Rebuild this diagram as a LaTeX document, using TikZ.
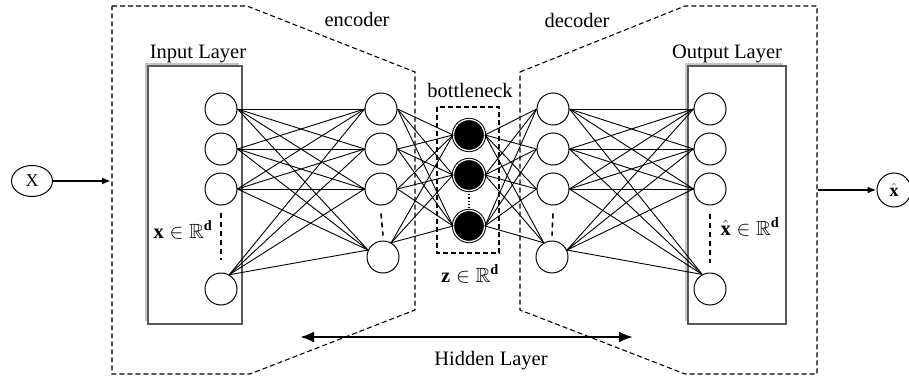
\documentclass[tikz,border=0pt]{standalone}
\usepackage{amssymb}
\usepackage{fontspec}
\setmainfont{Liberation Serif}
\usetikzlibrary{arrows.meta,shapes.geometric}

\begin{document}
\begin{tikzpicture}[x=1pt,y=-1pt,
  neuron/.style={circle,draw,fill=white,minimum size=32pt,inner sep=0pt,line width=1pt},
  coreunit/.style={circle,fill=black,draw=black,double=white,double distance=1.2pt,
                   line width=1pt,minimum size=31pt,inner sep=0pt},
  link/.style={line width=0.9pt},
  gap/.style={line width=1.6pt,dash pattern=on 5pt off 4pt},
  frame/.style={line width=1.1pt,dash pattern=on 5pt off 3pt},
  layerbox/.style={draw=gray!70!black,fill=white,line width=1.1pt},
  boxshade/.style={fill=gray!45},
  lbl/.style={font=\fontsize{20.5}{24}\selectfont,inner sep=0pt,anchor=base},
  flow/.style={line width=1.8pt,-{Latex[length=9pt,width=7pt]}},
]
\useasboundingbox (0,0) rectangle (909,377);

% encoder and decoder outlines
\draw[frame] (112,6) -- (247,6) -- (415,72) -- (415,310) -- (250,374) -- (112,374) -- cycle;
\draw[frame] (520,72) -- (685,6) -- (817,6) -- (817,374) -- (685,374) -- (520,310) -- cycle;

% input and output layer boxes with their shade
\fill[boxshade] (145,63) rectangle (239,321);
\draw[layerbox] (148,66) rectangle (242,324);
\fill[boxshade] (685,63) rectangle (783,321);
\draw[layerbox] (688,66) rectangle (786,324);

% bottleneck box
\draw[frame] (437,107) rectangle (499,253);

% neuron positions
\foreach \k/\y in {1/109,2/149,3/189,4/289} \coordinate (in\k) at (221,\y);
\foreach \k/\y in {1/109,2/149,3/189} \coordinate (en\k) at (381,\y);
\coordinate (en4) at (383,257);
\foreach \k/\y in {1/135,2/175,3/226} \coordinate (bn\k) at (469,\y);
\foreach \k/\y in {1/109,2/149,3/189} \coordinate (de\k) at (553,\y);
\coordinate (de4) at (552,257);
\foreach \k/\y in {1/109,2/149,3/189,4/289} \coordinate (out\k) at (710,\y);

% neurons
\foreach \k in {1,2,3,4} {
  \node[neuron] (in\k) at (in\k) {};
  \node[neuron] (en\k) at (en\k) {};
  \node[neuron] (de\k) at (de\k) {};
  \node[neuron] (out\k) at (out\k) {};
}
\foreach \k in {1,2,3} \node[coreunit] (bn\k) at (bn\k) {};

% fully connected links
\foreach \i/\a in {1/east,2/east,3/east,4/60}
  \foreach \j/\b in {1/west,2/west,3/west,4/155}
    \draw[link] (in\i.\a) -- (en\j.\b);
\foreach \i/\a in {1/east,2/east,3/east,4/60}
  \foreach \j in {1,2,3}
    \draw[link] (en\i.\a) -- (bn\j.west);
\foreach \i in {1,2,3}
  \foreach \j/\b in {1/west,2/west,3/west,4/120}
    \draw[link] (bn\i.east) -- (de\j.\b);
\foreach \i/\a in {1/east,2/east,3/east,4/25}
  \foreach \j/\b in {1/west,2/west,3/west,4/118}
    \draw[link] (de\i.\a) -- (out\j.\b);

% elided units
\draw[gap] ([yshift=-7pt]in3.south) -- ([yshift=13pt]in4.north);
\draw[gap] ([yshift=-8pt]en3.south) -- ([yshift=5pt]en4.north);
\draw[gap] ([yshift=-8pt]de3.south) -- ([yshift=5pt]de4.north);
\draw[gap] ([yshift=-8pt]out3.south) -- ([yshift=10pt]out4.north);
\draw[line width=1.2pt,dotted] (bn2.south) -- (bn3.north);

% labels
\node[lbl] (tenc) at (357,27) {encoder};
\node[lbl] (tdec) at (577,28) {decoder};
\node[lbl] (tin) at (198,59) {Input Layer};
\node[lbl] (tout) at (727,59) {Output Layer};
\node[lbl] (tbn) at (470,98) {bottleneck};
\node[lbl] (tz) at (470,282) {$\mathbf{z}\in\mathbb{R}^{\mathbf{d}}$};
\node[lbl] (tx) at (183,238) {$\mathbf{x}\in\mathbb{R}^{\mathbf{d}}$};
\node[lbl] (txh) at (750,235) {$\hat{\mathbf{x}}\in\mathbb{R}^{\mathbf{d}}$};
\node[lbl] (thid) at (491,365) {Hidden Layer};

% input and reconstruction
\node[ellipse,draw,line width=1pt,minimum width=41pt,minimum height=31pt,inner sep=0pt,
      font=\fontsize{18}{20}\selectfont] (X) at (32,181) {X};
\coordinate (encin) at (111,181);
\draw[flow] (X.east) -- (encin);
\node[circle,draw,line width=1pt,minimum size=34pt,inner sep=0pt,
      font=\fontsize{18}{20}\selectfont] (Xh) at (894,190) {$\hat{\mathbf{x}}$};
\coordinate (decout) at (818,190);
\draw[flow] (decout) -- (Xh.west);

% hidden layer span
\coordinate (hl) at (300,337);
\coordinate (hr) at (633,337);
\draw[line width=2.6pt,{Latex[length=14pt,width=11pt]}-{Latex[length=14pt,width=11pt]}] (hl) -- (hr);
\end{tikzpicture}
\end{document}
